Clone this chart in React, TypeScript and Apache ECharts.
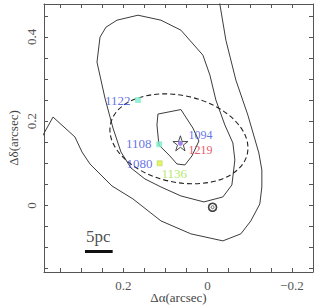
import React, { useEffect, useRef } from "react";
import * as echarts from "echarts";

// ---- Data (arcsec offsets) ----
const xRange = [-0.25, 0.388];
const yRange = [-0.158, 0.478];
const xTickValues = [-0.2, -0.15, -0.1, -0.05, 0, 0.05, 0.1, 0.15, 0.2, 0.25, 0.3, 0.35];
const yTickValues = [-0.15, -0.1, -0.05, 0, 0.05, 0.1, 0.15, 0.2, 0.25, 0.3, 0.35, 0.4, 0.45];
const xLabelValues = [-0.2, 0, 0.2];
const yLabelValues = [0, 0.2, 0.4];

const outerContour: number[][] = [
  [-0.027, 0.49], [-0.0434, 0.392], [-0.0671, 0.2974], [-0.0955, 0.2144], [-0.1216, 0.1244],
  [-0.1287, 0.0841], [-0.1287, 0.0438], [-0.1239, 0.0036], [-0.1026, -0.0367], [-0.0789, -0.0675],
  [-0.0363, -0.0841], [0.0396, -0.0675], [0.1107, -0.0367], [0.177, 0.0154], [0.2268, 0.0462],
  [0.2789, 0.0983], [0.2979, 0.1268], [0.3145, 0.1623], [0.3666, 0.2097], [0.397, 0.155],
];

const middleContour: number[][] = [
  [0.2552, 0.3993], [0.241, 0.423], [0.2149, 0.4396], [0.1652, 0.4514], [0.1107, 0.4396],
  [0.0633, 0.4159], [0.0111, 0.3566], [-0.0055, 0.3092], [-0.0197, 0.25], [-0.041, 0.1908],
  [-0.06, 0.1481], [-0.0647, 0.1078], [-0.0576, 0.0486], [-0.0363, 0.0201], [0.0088, 0.0083],
  [0.0633, 0.0225], [0.1107, 0.0438], [0.1486, 0.0628], [0.1818, 0.0889], [0.2055, 0.1268],
  [0.2244, 0.1836], [0.2434, 0.2547], [0.2623, 0.34], [0.2552, 0.3993],
];

const innerContour: number[][] = [
  [0.1178, 0.2168], [0.0633, 0.2275], [0.0348, 0.1836], [0.0206, 0.1528], [0.0372, 0.1173],
  [0.0538, 0.096], [0.0727, 0.0983], [0.0893, 0.1173], [0.1154, 0.1434], [0.1201, 0.1908],
  [0.1178, 0.2168],
];

// dashed ellipse: centre x, centre y, semi-axis a, semi-axis b (arcsec), tilt (deg, clockwise)
const ellipseParams = [0.068, 0.158, 0.166, 0.103];
const ellipseTiltDeg = 12.35;

const squareIds = ["1122", "1108", "1080"];
const squareX = [0.1652, 0.1147, 0.1137];
const squareY = [0.25, 0.145, 0.1];
const squareColors = ["#7eeccb", "#7eeccb", "#e8ec3c"];

const starPos = [0.0645, 0.1474];
const ringPos = [-0.0118, -0.0043];

const labelTexts = ["1122", "1108", "1080", "1136", "1094", "1219"];
const labelX = [0.1818, 0.132, 0.1296, 0.1107, 0.0467, 0.0467];
const labelY = [0.25, 0.146, 0.0995, 0.0763, 0.1665, 0.1325];
const labelSide = ["left", "left", "left", "right", "right", "right"];
const labelSizes = [13, 13, 13, 13, 12, 12];
const labelColors = ["#3b4de2", "#3b4de2", "#3b4de2", "#9ee43c", "#3b4de2", "#e62a3c"];

const scaleBar: number[][] = [[0.2908, -0.1095], [0.2251, -0.1095]];
const scaleText = "5pc";
const scaleTextPos = [0.2592, -0.0739];

const STAR =
  "path://M50,2 L61.8,36.2 L97.6,36.2 L68.5,57.4 L79.4,91.6 L50,70.4 L20.6,91.6 L31.5,57.4 L2.4,36.2 L38.2,36.2 Z";

const FONT = "Liberation Serif";
const AXIS_COLOR = "#555";
const LINE_COLOR = "#3c3c3c";

function fmt(v: number): string {
  if (Math.abs(v) < 1e-9) return "0";
  return (v < 0 ? "\u2212" : "") + Math.abs(v).toFixed(1);
}

export default function App() {
  const ref = useRef<HTMLDivElement>(null);
  useEffect(() => {
    if (!ref.current) return;
    const chart = echarts.init(ref.current, undefined, { renderer: "svg" });

    const commonAxisLine = { show: true, onZero: false, lineStyle: { color: AXIS_COLOR, width: 1 } };
    const tickStyle = { show: true, inside: true, length: 4, lineStyle: { color: AXIS_COLOR, width: 1 } };

    const contour = (d: number[][]) => ({
      type: "line",
      data: d,
      showSymbol: false,
      symbol: "none",
      lineStyle: { color: LINE_COLOR, width: 1 },
      clip: true,
      silent: true,
      z: 2,
    });

    const option: any = {
      animation: false,
      grid: { left: 44, right: 9, top: 4, bottom: 36, containLabel: false, outerBoundsMode: "none" },
      xAxis: [
        {
          type: "value",
          inverse: true,
          min: xRange[0],
          max: xRange[1],
          position: "bottom",
          splitLine: { show: false },
          axisLine: commonAxisLine,
          axisTick: { ...tickStyle, customValues: xTickValues },
          axisLabel: {
            customValues: xLabelValues,
            formatter: fmt,
            color: "#555",
            fontFamily: FONT,
            fontSize: 13,
            margin: 7,
          },
          name: "\u0394\u03b1(arcsec)",
          nameLocation: "middle",
          nameMoveOverlap: false,
          nameGap: 19,
          nameTextStyle: { color: "#444", fontFamily: FONT, fontSize: 13 },
        },
        {
          type: "value",
          inverse: true,
          min: xRange[0],
          max: xRange[1],
          position: "top",
          splitLine: { show: false },
          axisLine: commonAxisLine,
          axisTick: { ...tickStyle, customValues: xTickValues },
          axisLabel: { show: false },
        },
      ],
      yAxis: [
        {
          type: "value",
          min: yRange[0],
          max: yRange[1],
          position: "left",
          splitLine: { show: false },
          axisLine: commonAxisLine,
          axisTick: { ...tickStyle, customValues: yTickValues },
          axisLabel: {
            customValues: yLabelValues,
            formatter: fmt,
            rotate: 90,
            color: "#555",
            fontFamily: FONT,
            fontSize: 13,
            margin: 6,
          },
          name: "\u0394\u03b4(arcsec)",
          nameLocation: "middle",
          nameMoveOverlap: false,
          nameRotate: 90,
          nameGap: 24,
          nameTextStyle: { color: "#444", fontFamily: FONT, fontSize: 13 },
        },
        {
          type: "value",
          min: yRange[0],
          max: yRange[1],
          position: "right",
          splitLine: { show: false },
          axisLine: commonAxisLine,
          axisTick: { ...tickStyle, customValues: yTickValues },
          axisLabel: { show: false },
        },
      ],
      series: [
        contour(outerContour),
        contour(middleContour),
        contour(innerContour),
        {
          type: "custom",
          data: [ellipseParams],
          encode: { x: 0, y: 1 },
          clip: true,
          silent: true,
          z: 3,
          renderItem: (_p: any, api: any) => {
            const c = api.coord([api.value(0), api.value(1)]);
            const s = api.size([api.value(2), api.value(3)]);
            return {
              type: "ellipse",
              x: c[0],
              y: c[1],
              rotation: (-ellipseTiltDeg * Math.PI) / 180,
              shape: { cx: 0, cy: 0, rx: Math.abs(s[0]), ry: Math.abs(s[1]) },
              style: { fill: "none", stroke: "#222", lineWidth: 1.1, lineDash: [5, 3] },
            };
          },
        },
        {
          type: "line",
          data: scaleBar,
          showSymbol: false,
          symbol: "none",
          lineStyle: { color: "#111", width: 3 },
          silent: true,
          z: 4,
        },
        {
          type: "scatter",
          silent: true,
          z: 5,
          data: squareIds.map((id, i) => ({
            name: id,
            value: [squareX[i], squareY[i]],
            itemStyle: {
              color: squareColors[i],
              borderColor: i === 2 ? "#a6e06a" : squareColors[i],
              borderWidth: 0.8,
            },
          })),
          symbol: "rect",
          symbolSize: 5,
        },
        {
          type: "scatter",
          silent: true,
          z: 5,
          data: [starPos],
          symbol: "circle",
          symbolSize: 5,
          itemStyle: { color: "#8a62e6" },
        },
        {
          type: "scatter",
          silent: true,
          z: 6,
          data: [starPos],
          symbol: STAR,
          symbolSize: 15,
          itemStyle: { color: "rgba(0,0,0,0)", borderColor: "#222", borderWidth: 1 },
        },
        {
          type: "scatter",
          silent: true,
          z: 5,
          data: [ringPos],
          symbol: "circle",
          symbolSize: 8,
          itemStyle: { color: "rgba(0,0,0,0)", borderColor: "#111", borderWidth: 1.6 },
        },
        {
          type: "scatter",
          silent: true,
          z: 5,
          data: [ringPos],
          symbol: "circle",
          symbolSize: 3,
          itemStyle: { color: "rgba(0,0,0,0)", borderColor: "#111", borderWidth: 0.8 },
        },
        {
          type: "scatter",
          silent: true,
          z: 7,
          symbol: "circle",
          symbolSize: 1,
          itemStyle: { color: "rgba(0,0,0,0)" },
          data: labelTexts.map((t, i) => ({
            value: [labelX[i], labelY[i]],
            label: {
              show: true,
              formatter: t,
              position: labelSide[i] === "left" ? "left" : "right",
              distance: 0,
              color: labelColors[i],
              fontFamily: FONT,
              fontSize: labelSizes[i],
            },
          })),
        },
        {
          type: "scatter",
          silent: true,
          z: 7,
          symbol: "circle",
          symbolSize: 1,
          itemStyle: { color: "rgba(0,0,0,0)" },
          data: [
            {
              value: scaleTextPos,
              label: {
                show: true,
                formatter: scaleText,
                position: "inside",
                color: "#222",
                fontFamily: FONT,
                fontSize: 17,
              },
            },
          ],
        },
      ],
    };
    chart.setOption(option);
    return () => chart.dispose();
  }, []);
  return (
    <div
      ref={ref}
      style={{ position: "fixed", left: 0, top: 0, width: 322, height: 308, background: "#fff" }}
    />
  );
}
